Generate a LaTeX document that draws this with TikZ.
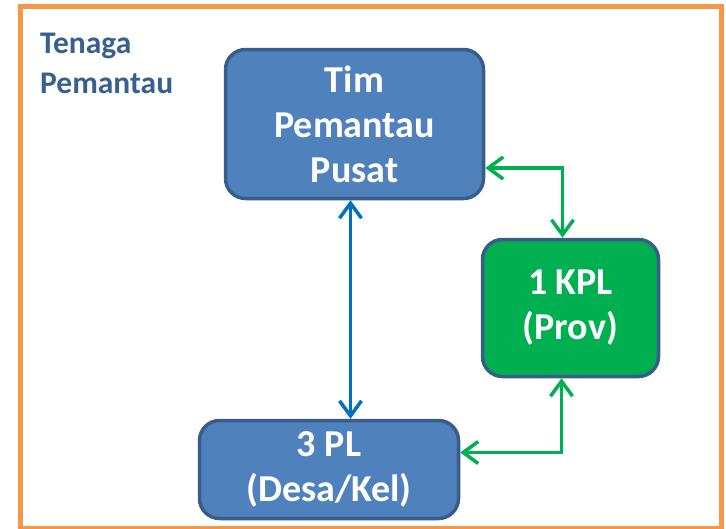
\documentclass[tikz,border=0pt]{standalone}
\usepackage{fontspec}
\setmainfont{Carlito}
\usepackage{xcolor}
\usetikzlibrary{arrows.meta,positioning}

\definecolor{frameorange}{RGB}{247,150,70}
\definecolor{boxblue}{RGB}{79,129,189}
\definecolor{boxedge}{RGB}{56,93,138}
\definecolor{kplgreen}{RGB}{0,176,80}
\definecolor{linkblue}{RGB}{0,112,192}
\definecolor{titleblue}{RGB}{55,96,146}

\begin{document}
\begin{tikzpicture}[x=1pt, y=-1pt,
    box/.style={rectangle, rounded corners=20pt, draw=boxedge, line width=3.5pt,
                fill=boxblue, text=white, align=center,
                font=\fontsize{38}{45}\selectfont\bfseries},
    link/.style={{Straight Barb[length=15pt,width=22pt]}-{Straight Barb[length=15pt,width=22pt]},
                 line width=3.5pt},
    title/.style={font=\fontsize{31.5}{40}\selectfont\bfseries, text=titleblue,
                  align=left, inner sep=0pt}
]
    \useasboundingbox (0,0) rectangle (726,528);

    % frame
    \draw[frameorange, line width=5pt] (20,6.5) rectangle (721,528);
    \node[title, anchor=north west] (judul) at (40,33) {Tenaga\\Pemantau};

    % boxes
    \node[box, minimum width=258pt, minimum height=149pt] (pusat) at (354.5,124) {Tim\\Pemantau\\Pusat};
    \node[box, fill=kplgreen, minimum width=176pt, minimum height=137pt] (kpl) at (570.5,308) {1 KPL\\(Prov)};
    \node[box, minimum width=259pt, minimum height=98pt] (pl) at (329,469.5) {3 PL\\(Desa/Kel)};

    % links
    \draw[link, linkblue] ([xshift=-4pt]pusat.south) -- ([xshift=-4pt]pusat.south |- pl.north);
    \draw[link, kplgreen] ([yshift=-44pt]pusat.east) -| ([xshift=-8pt]kpl.north);
    \draw[link, kplgreen] ([yshift=17pt]pl.east) -| ([xshift=-9pt]kpl.south);

\end{tikzpicture}
\end{document}
